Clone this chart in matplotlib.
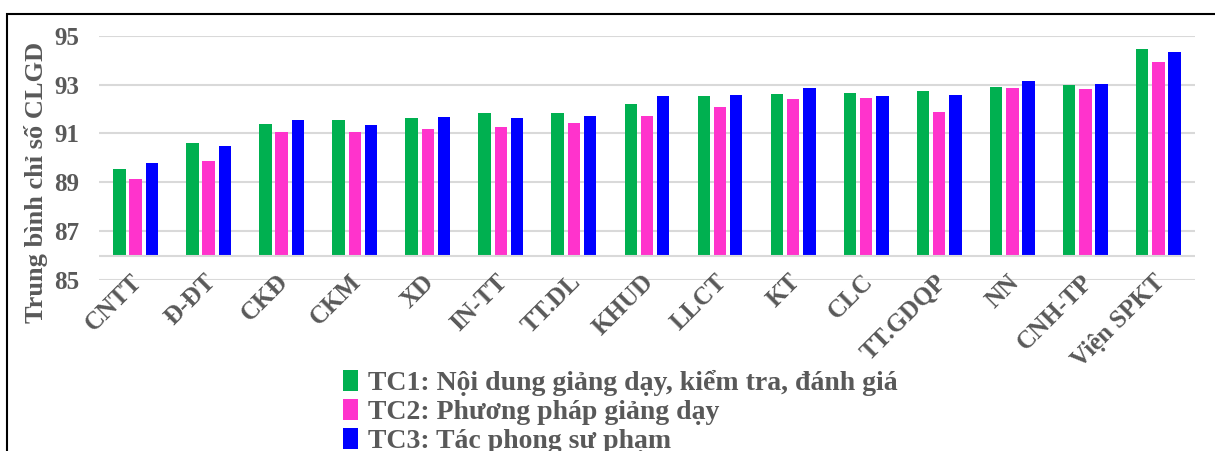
import numpy as np
import matplotlib.pyplot as plt
import matplotlib.transforms as mtransforms
from matplotlib.patches import Patch, Rectangle

categories = ["CNTT", "Đ-ĐT", "CKĐ", "CKM", "XD", "IN-TT", "TT.DL", "KHUD",
              "LLCT", "KT", "CLC", "TT.GDQP", "NN", "CNH-TP", "Viện SPKT"]
tc1 = [89.55, 90.59, 91.38, 91.55, 91.63, 91.82, 91.83, 92.20,
       92.51, 92.63, 92.67, 92.73, 92.89, 92.96, 94.44]
tc2 = [89.12, 89.87, 91.06, 91.06, 91.18, 91.26, 91.41, 91.72,
       92.10, 92.40, 92.44, 91.87, 92.87, 92.81, 93.91]
tc3 = [89.79, 90.47, 91.56, 91.34, 91.68, 91.64, 91.72, 92.53,
       92.59, 92.87, 92.55, 92.57, 93.16, 93.04, 94.32]
series_names = ["TC1: Nội dung giảng dạy, kiểm tra, đánh giá",
                "TC2: Phương pháp giảng dạy",
                "TC3: Tác phong sư phạm"]
colors = ["#00B050", "#FF33CC", "#0000FF"]
yticks = [85, 87, 89, 91, 93, 95]
base = 86

plt.rcParams['font.family'] = ['Liberation Serif', 'DejaVu Serif']
plt.rcParams['font.weight'] = 'bold'
txt = "#595959"

fig = plt.figure(figsize=(12.15, 4.51), dpi=100)
ax = fig.add_axes([0.0815, 0.379, 0.902, 0.542])

x = np.arange(len(categories))
w = 0.17
step = 0.222
for i, (vals, c) in enumerate(zip([tc1, tc2, tc3], colors)):
    v = np.array(vals)
    ax.bar(x + (i - 1) * step, v - base, w, bottom=base, color=c, zorder=3)

ax.set_xlim(-0.5, len(categories) - 0.5)
ax.set_ylim(85, 95)
ax.set_yticks(yticks)
ax.set_yticklabels([str(t) for t in yticks], fontsize=18, color=txt, fontweight='bold')
for t in yticks:
    ax.axhline(t, color="#D9D9D9", lw=1.5, zorder=1)
ax.axhline(base, color="#D9D9D9", lw=1.5, zorder=4)
ax.set_xticks(x)
ax.set_xticklabels(categories, rotation=45, ha='right', rotation_mode='anchor',
                   fontsize=18, color=txt, fontweight='bold')
ax.tick_params(axis='both', length=0)
ax.tick_params(axis='x', pad=-2)
ax.tick_params(axis='y', pad=14)
# nudge category labels up/left a bit
offset = mtransforms.ScaledTranslation(-5 / 100, 7 / 100, fig.dpi_scale_trans)
for lab in ax.get_xticklabels():
    lab.set_transform(lab.get_transform() + offset)
for s in ax.spines.values():
    s.set_visible(False)
ax.set_ylabel("Trung bình chỉ số CLGD", fontsize=19, color=txt, fontweight='bold')
ax.yaxis.set_label_coords(-0.047, 0.40)

handles = [Patch(facecolor=c, edgecolor='none') for c in colors]
fig.legend(handles, series_names, loc='upper left', bbox_to_anchor=(0.273, 0.205),
           frameon=False, fontsize=20, labelcolor=txt, handlelength=0.55,
           handleheight=0.8, handletextpad=0.35, labelspacing=0.1, borderaxespad=0)

fig.add_artist(Rectangle((7 / 1215, -0.1), 1.2, 1.1 - 14 / 451, transform=fig.transFigure,
                         fill=False, edgecolor='black', lw=1.5))

fig.savefig("out.png", dpi=100)
